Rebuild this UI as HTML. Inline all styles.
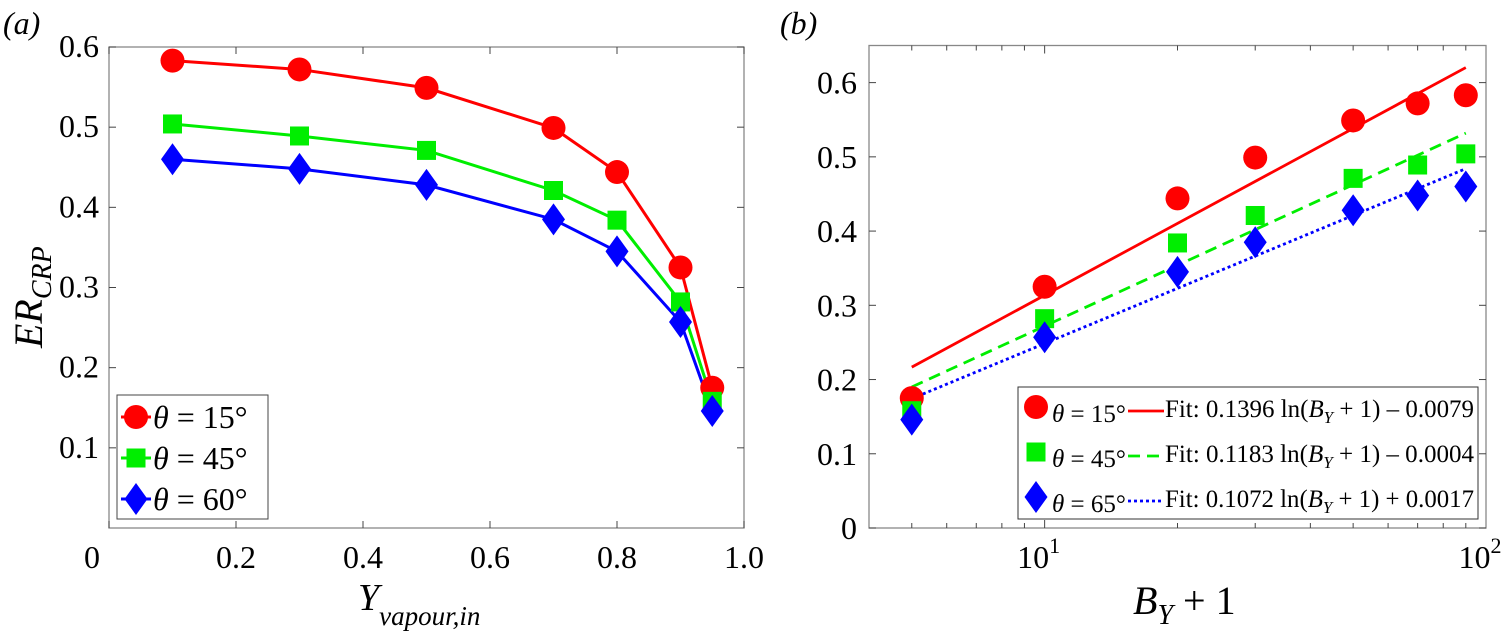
<!DOCTYPE html>
<html><head><meta charset="utf-8"><style>
html,body{margin:0;padding:0;background:#fff;}
svg{display:block;font-family:"Liberation Serif","DejaVu Serif",serif;}
svg text{font-family:"Liberation Serif","DejaVu Serif",serif;}
</style></head><body>
<svg id="fig" width="1509" height="639" viewBox="0 0 1509 639" font-family="Liberation Serif, DejaVu Serif, serif"></svg>
<script>
const yIn=[0.1,0.3,0.5,0.7,0.8,0.9,0.95];
const bY=[90,70,50,30,20,10,5];
const red=[0.583,0.572,0.549,0.499,0.444,0.325,0.175];
const green=[0.504,0.489,0.471,0.421,0.384,0.282,0.158];
const blue=[0.460,0.448,0.428,0.385,0.345,0.257,0.146];
const fitA=[0.1396,0.1183,0.1072];
const fitB=[-0.0079,-0.0004,0.0017];
const leftXTicks=[0,0.2,0.4,0.6,0.8,1.0];
const leftXLabels=["0","0.2","0.4","0.6","0.8","1.0"];
const leftYTicks=[0.1,0.2,0.3,0.4,0.5,0.6];
const rightYTicks=[0,0.1,0.2,0.3,0.4,0.5,0.6];
const legendLeft=["θ = 15°","θ = 45°","θ = 60°"];
const legendRightTheta=["θ = 15°","θ = 45°","θ = 65°"];

const NS="http://www.w3.org/2000/svg";
const svg=document.getElementById('fig');
function el(tag,attrs,parent){const e=document.createElementNS(NS,tag);for(const k in attrs)e.setAttribute(k,attrs[k]);(parent||svg).appendChild(e);return e;}
const colors=["#ff0000","#00ee00","#0000ff"];
const series=[red,green,blue];
const names=["red","green","blue"];

function marker(i,cx,cy,g){
  let m;
  if(i===0) m=el('circle',{cx:cx,cy:cy,r:12,fill:colors[0]},g);
  else if(i===1) m=el('rect',{x:cx-9.5,y:cy-9.5,width:19,height:19,fill:colors[1]},g);
  else m=el('polygon',{points:`${cx},${cy-16} ${cx+11.5},${cy} ${cx},${cy+16} ${cx-11.5},${cy}`,fill:colors[2]},g);
  return m;
}

/* ---------- Left panel ---------- */
const L={x0:109,x1:744,y0:528,y1:47};
const lx=v=>L.x0+v*(L.x1-L.x0);
const ly=v=>L.y0-(v/0.6)*(L.y0-L.y1);
const gL=el('g',{});


let t=el('text',{x:3,y:34,'font-size':32,'font-style':'italic'},gL);t.textContent='(a)';

el('rect',{x:L.x0,y:L.y1,width:L.x1-L.x0,height:L.y0-L.y1,fill:'none',stroke:'#888','stroke-width':1.3},gL);
leftXTicks.forEach((v,i)=>{
  const x=lx(v);
  el('line',{x1:x,y1:L.y0,x2:x,y2:L.y0-7,stroke:'#444'},gL);
  el('line',{x1:x,y1:L.y1,x2:x,y2:L.y1+7,stroke:'#444'},gL);
  const tx=el('text',{x:x+(i===0?-17:0),y:568,'font-size':32,'text-anchor':'middle'},gL);tx.textContent=leftXLabels[i];
  
});
leftYTicks.forEach(v=>{
  const y=ly(v);
  el('line',{x1:L.x0,y1:y,x2:L.x0+7,y2:y,stroke:'#444'},gL);
  el('line',{x1:L.x1,y1:y,x2:L.x1-7,y2:y,stroke:'#444'},gL);
  const tx=el('text',{x:L.x0-10,y:y+10,'font-size':32,'text-anchor':'end'},gL);tx.textContent=v.toFixed(1);
  
});
series.forEach((s,i)=>{
  const pts=s.map((v,j)=>lx(yIn[j])+','+ly(v)).join(' ');
  const pl=el('polyline',{points:pts,fill:'none',stroke:colors[i],'stroke-width':3},gL);
  
});
series.forEach((s,i)=>{
  s.forEach((v,j)=>{const m=marker(i,lx(yIn[j]),ly(v),gL);
  });
});
t=el('text',{x:0,y:0,'font-size':40,'font-style':'italic',transform:'translate(42,348) rotate(-90)'},gL);
t.innerHTML='ER<tspan font-size="28" dy="9">CRP</tspan>';

t=el('text',{x:358,y:610,'font-size':38,'font-style':'italic'},gL);
t.innerHTML='Y<tspan font-size="27" dy="15">vapour,in</tspan>';

const lg=el('g',{},gL);

el('rect',{x:117,y:395,width:151,height:124,fill:'#fff',stroke:'#444','stroke-width':1},lg);
legendLeft.forEach((s,i)=>{
  const y=417+i*41;
  el('line',{x1:121,y1:y,x2:151,y2:y,stroke:colors[i],'stroke-width':3},lg);
  marker(i,136,y,lg);
  const tx=el('text',{x:153,y:y+11,'font-size':32},lg);
  tx.innerHTML='<tspan font-style="italic">θ</tspan>'+s.slice(1);
  
});

/* ---------- Right panel ---------- */
const R={x0:869,x1:1486,y0:528,y1:45.5};
const lg10=Math.log10;
const rx=v=>R.x0+(lg10(v)-lg10(4))/(2-lg10(4))*(R.x1-R.x0);
const ry=v=>R.y0-(v/0.65)*(R.y0-R.y1);
const gR=el('g',{});

t=el('text',{x:780,y:34,'font-size':32,'font-style':'italic'},gR);t.textContent='(b)';

el('rect',{x:R.x0,y:R.y1,width:R.x1-R.x0,height:R.y0-R.y1,fill:'none',stroke:'#888','stroke-width':1.3},gR);
[5,6,7,8,9,10,20,30,40,50,60,70,80,90].forEach(v=>{
  const x=rx(v),len=(v===10)?8:5;
  el('line',{x1:x,y1:R.y0,x2:x,y2:R.y0-len,stroke:'#444'},gR);
  el('line',{x1:x,y1:R.y1,x2:x,y2:R.y1+len,stroke:'#444'},gR);
});
[[10,'1'],[100,'2']].forEach(([v,e])=>{
  const tx=el('text',{x:rx(v)-6,y:568,'font-size':32,'text-anchor':'middle'},gR);
  tx.innerHTML='10<tspan font-size="22" dy="-15">'+e+'</tspan>';
  
});
rightYTicks.forEach(v=>{
  const y=ry(v);
  el('line',{x1:R.x0,y1:y,x2:R.x0+7,y2:y,stroke:'#444'},gR);
  el('line',{x1:R.x1,y1:y,x2:R.x1-7,y2:y,stroke:'#444'},gR);
  const tx=el('text',{x:R.x0-12,y:y+11,'font-size':32,'text-anchor':'end'},gR);tx.textContent=v===0?'0':v.toFixed(1);
  
});
const dashes=['none','12,7','3,3'];
fitA.forEach((a,i)=>{
  const f=el('line',{x1:rx(5),y1:ry(a*Math.log(5)+fitB[i]),x2:rx(90),y2:ry(a*Math.log(90)+fitB[i]),stroke:colors[i],'stroke-width':2.8,'stroke-dasharray':dashes[i]},gR);
  
});
series.forEach((s,i)=>{
  s.forEach((v,j)=>{const m=marker(i,rx(bY[j]),ry(v),gR);
  });
});
t=el('text',{x:1133,y:614,'font-size':40,'font-style':'italic'},gR);
t.innerHTML='B<tspan font-size="28" dy="10">Y</tspan><tspan dy="-10" font-style="normal"> + 1</tspan>';

const lg2=el('g',{},gR);

el('rect',{x:1018,y:387,width:460,height:132,fill:'#fff',stroke:'#333','stroke-width':1},lg2);
legendRightTheta.forEach((s,i)=>{
  const y=407+i*45;
  marker(i,1036,y,lg2);
  const tx=el('text',{x:1052,y:y+15,'font-size':25},lg2);
  tx.innerHTML='<tspan font-style="italic">θ</tspan>'+s.slice(1);
  
  el('line',{x1:1128,y1:y+4,x2:1164,y2:y+4,stroke:colors[i],'stroke-width':2.8,'stroke-dasharray':dashes[i]},lg2);
  const sign=fitB[i]<0?'– ':'+ ';
  const ft=el('text',{x:1165,y:y+10,'font-size':25,textLength:309,lengthAdjust:'spacingAndGlyphs'},lg2);
  ft.innerHTML='Fit: '+fitA[i].toFixed(4)+' ln(<tspan font-style="italic">B</tspan><tspan font-style="italic" font-size="17" dy="6">Y</tspan><tspan dy="-6"> + 1) '+sign+Math.abs(fitB[i]).toFixed(4)+'</tspan>';
  
});
</script>
</body></html>
